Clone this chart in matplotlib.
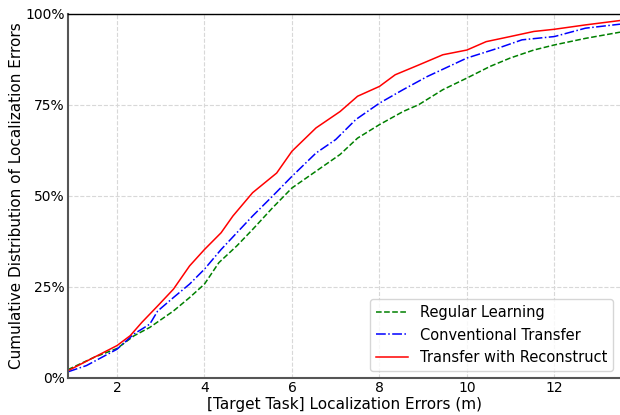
import matplotlib
matplotlib.use("Agg")
import matplotlib.pyplot as plt
from matplotlib.ticker import PercentFormatter

# CDF 曲线, 数值从图上读出来的 (误差 m, 累计 %)
x_reg = [0.88, 1.48, 2.0, 2.39, 2.75, 3.29, 3.66, 4.0, 4.33, 4.74, 5.10, 5.56, 6.0, 6.55,
         7.10, 7.50, 8.0, 8.54, 8.90, 9.45, 10.0, 10.53, 10.99, 11.53, 12.0, 12.71, 13.5]
y_reg = [2.3, 5.7, 8.1, 11.6, 13.9, 18.4, 22.1, 25.8, 31.7, 36.3, 40.8, 46.8, 52.2, 56.8,
         61.4, 65.9, 69.6, 73.2, 75.1, 79.2, 82.4, 85.6, 87.9, 90.1, 91.5, 93.3, 95.0]

x_conv = [0.88, 1.30, 2.0, 2.39, 2.75, 2.93, 3.29, 3.66, 4.0, 4.38, 4.74, 5.10, 5.56, 6.0,
          6.55, 7.00, 7.46, 8.0, 8.54, 9.09, 10.0, 10.71, 11.26, 12.0, 12.71, 13.5]
y_conv = [1.7, 3.4, 7.9, 12.1, 14.8, 18.4, 22.1, 25.8, 29.9, 35.3, 39.9, 44.5, 50.0, 55.4,
          61.8, 65.5, 71.0, 75.5, 79.2, 82.8, 87.9, 90.6, 92.9, 93.8, 96.1, 97.2]

x_rec = [0.88, 1.48, 2.0, 2.30, 2.57, 2.93, 3.29, 3.66, 4.0, 4.38, 4.65, 5.10, 5.65, 6.0,
         6.55, 7.10, 7.50, 8.0, 8.36, 8.90, 9.45, 10.0, 10.44, 10.99, 11.53, 12.0, 12.71, 13.5]
y_rec = [2.0, 5.7, 8.9, 11.6, 15.3, 19.8, 24.4, 30.8, 35.3, 39.9, 44.5, 50.9, 56.3, 62.3,
         68.7, 73.2, 77.4, 80.1, 83.3, 86.0, 88.8, 90.1, 92.4, 93.8, 95.2, 95.8, 97.0, 98.2]

labels = ["Regular Learning", "Conventional Transfer", "Transfer with Reconstruct"]

fig = plt.figure(figsize=(6.2, 4.15), dpi=100)
ax = fig.add_axes([0.1097, 0.0892, 0.8903, 0.8771])

ax.plot(x_reg, y_reg, "--", color="green", linewidth=1.1, label=labels[0])
ax.plot(x_conv, y_conv, "-.", color="blue", linewidth=1.1, label=labels[1])
ax.plot(x_rec, y_rec, "-", color="red", linewidth=1.1, label=labels[2])

ax.set_xlim(0.88, 13.5)
ax.set_ylim(0, 100)
ax.set_xticks([2, 4, 6, 8, 10, 12])
ax.set_yticks([0, 25, 50, 75, 100])
ax.yaxis.set_major_formatter(PercentFormatter(decimals=0))
ax.tick_params(length=0, labelsize=10, pad=2.5)
ax.grid(True, linestyle="--", color="#d8d8d8", linewidth=0.8)
ax.set_axisbelow(True)

ax.spines["right"].set_visible(False)
ax.spines["top"].set_color("black")
ax.spines["top"].set_linewidth(1.0)
for s in ("left", "bottom"):
    ax.spines[s].set_color("#555555")
    ax.spines[s].set_linewidth(1.5)

ax.set_xlabel("[Target Task] Localization Errors (m)", fontsize=11, labelpad=1)
ax.set_ylabel("Cumulative Distribution of Localization Errors", fontsize=11, labelpad=1)
ax.legend(loc="lower right", fontsize=10.5, handlelength=2.2, borderaxespad=0.5)

fig.savefig("out.png", dpi=100)
